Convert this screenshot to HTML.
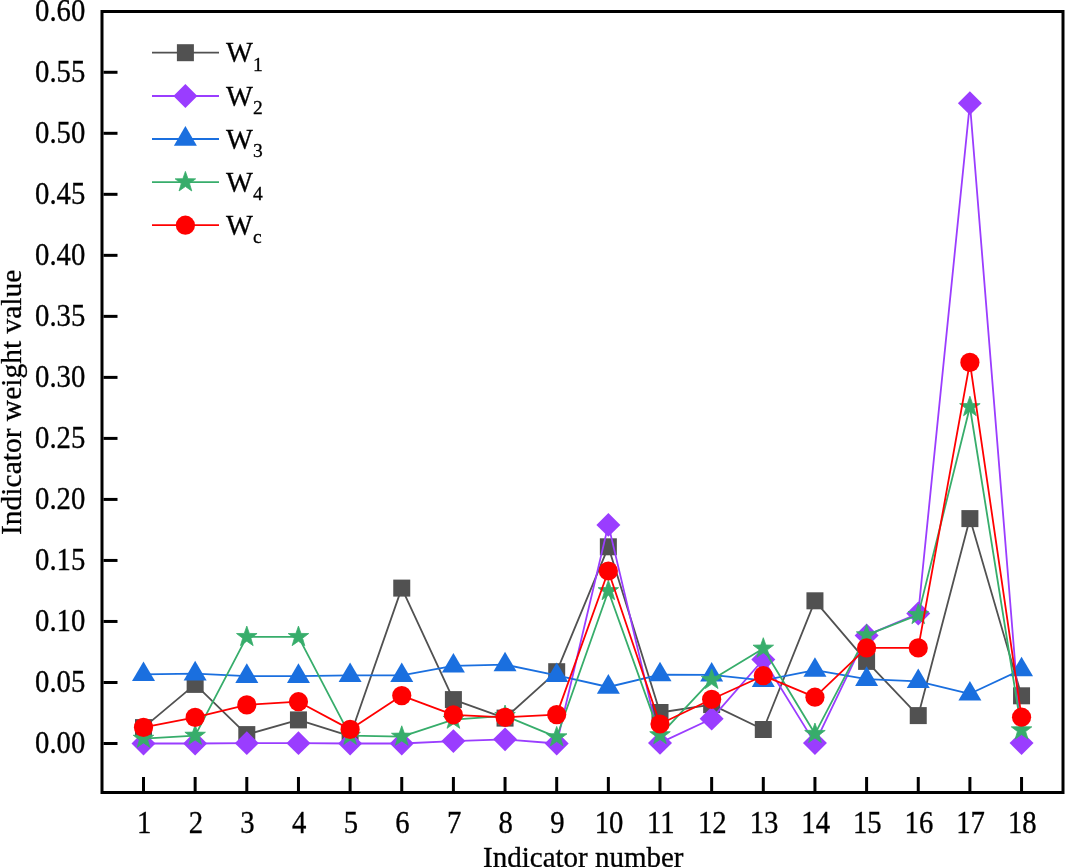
<!DOCTYPE html>
<html lang="en"><head><meta charset="utf-8"><title>Indicator weight value</title>
<style>html,body{margin:0;padding:0;background:#fff;}body{width:1065px;height:867px;overflow:hidden;}svg{display:block;will-change:transform;}text{font-family:"Liberation Serif",serif;fill:#000;stroke:#000;stroke-width:0.3px;}</style></head><body>
<svg width="1065" height="867" viewBox="0 0 1065 867">
<rect x="0" y="0" width="1065" height="867" fill="#fff"/>
<rect x="102.0" y="11.5" width="961.0" height="781.0" fill="none" stroke="#000" stroke-width="3"/>
<g stroke="#000" stroke-width="3"><line x1="103.5" y1="743.50" x2="117.5" y2="743.50"/><line x1="103.5" y1="682.48" x2="117.5" y2="682.48"/><line x1="103.5" y1="621.46" x2="117.5" y2="621.46"/><line x1="103.5" y1="560.44" x2="117.5" y2="560.44"/><line x1="103.5" y1="499.42" x2="117.5" y2="499.42"/><line x1="103.5" y1="438.40" x2="117.5" y2="438.40"/><line x1="103.5" y1="377.38" x2="117.5" y2="377.38"/><line x1="103.5" y1="316.36" x2="117.5" y2="316.36"/><line x1="103.5" y1="255.34" x2="117.5" y2="255.34"/><line x1="103.5" y1="194.32" x2="117.5" y2="194.32"/><line x1="103.5" y1="133.30" x2="117.5" y2="133.30"/><line x1="103.5" y1="72.28" x2="117.5" y2="72.28"/><line x1="143.50" y1="791.0" x2="143.50" y2="777.0"/><line x1="195.15" y1="791.0" x2="195.15" y2="777.0"/><line x1="246.80" y1="791.0" x2="246.80" y2="777.0"/><line x1="298.45" y1="791.0" x2="298.45" y2="777.0"/><line x1="350.10" y1="791.0" x2="350.10" y2="777.0"/><line x1="401.75" y1="791.0" x2="401.75" y2="777.0"/><line x1="453.40" y1="791.0" x2="453.40" y2="777.0"/><line x1="505.05" y1="791.0" x2="505.05" y2="777.0"/><line x1="556.70" y1="791.0" x2="556.70" y2="777.0"/><line x1="608.35" y1="791.0" x2="608.35" y2="777.0"/><line x1="660.00" y1="791.0" x2="660.00" y2="777.0"/><line x1="711.65" y1="791.0" x2="711.65" y2="777.0"/><line x1="763.30" y1="791.0" x2="763.30" y2="777.0"/><line x1="814.95" y1="791.0" x2="814.95" y2="777.0"/><line x1="866.60" y1="791.0" x2="866.60" y2="777.0"/><line x1="918.25" y1="791.0" x2="918.25" y2="777.0"/><line x1="969.90" y1="791.0" x2="969.90" y2="777.0"/><line x1="1021.55" y1="791.0" x2="1021.55" y2="777.0"/></g>
<g font-size="28.7" text-anchor="end"><text transform="translate(85.3,752.80) scale(1,1.07)">0.00</text><text transform="translate(85.3,691.78) scale(1,1.07)">0.05</text><text transform="translate(85.3,630.76) scale(1,1.07)">0.10</text><text transform="translate(85.3,569.74) scale(1,1.07)">0.15</text><text transform="translate(85.3,508.72) scale(1,1.07)">0.20</text><text transform="translate(85.3,447.70) scale(1,1.07)">0.25</text><text transform="translate(85.3,386.68) scale(1,1.07)">0.30</text><text transform="translate(85.3,325.66) scale(1,1.07)">0.35</text><text transform="translate(85.3,264.64) scale(1,1.07)">0.40</text><text transform="translate(85.3,203.62) scale(1,1.07)">0.45</text><text transform="translate(85.3,142.60) scale(1,1.07)">0.50</text><text transform="translate(85.3,81.58) scale(1,1.07)">0.55</text><text transform="translate(85.3,20.56) scale(1,1.07)">0.60</text></g>
<g font-size="28.7" text-anchor="middle"><text transform="translate(144.20,832.5) scale(1,1.07)">1</text><text transform="translate(195.85,832.5) scale(1,1.07)">2</text><text transform="translate(247.50,832.5) scale(1,1.07)">3</text><text transform="translate(299.15,832.5) scale(1,1.07)">4</text><text transform="translate(350.80,832.5) scale(1,1.07)">5</text><text transform="translate(402.45,832.5) scale(1,1.07)">6</text><text transform="translate(454.10,832.5) scale(1,1.07)">7</text><text transform="translate(505.75,832.5) scale(1,1.07)">8</text><text transform="translate(557.40,832.5) scale(1,1.07)">9</text><text transform="translate(609.05,832.5) scale(1,1.07)">10</text><text transform="translate(660.70,832.5) scale(1,1.07)">11</text><text transform="translate(712.35,832.5) scale(1,1.07)">12</text><text transform="translate(764.00,832.5) scale(1,1.07)">13</text><text transform="translate(815.65,832.5) scale(1,1.07)">14</text><text transform="translate(867.30,832.5) scale(1,1.07)">15</text><text transform="translate(918.95,832.5) scale(1,1.07)">16</text><text transform="translate(970.60,832.5) scale(1,1.07)">17</text><text transform="translate(1022.25,832.5) scale(1,1.07)">18</text></g>
<text transform="translate(583.3,867.0) scale(1,1.05)" font-size="29" text-anchor="middle">Indicator number</text>
<text transform="translate(20.8,402.3) rotate(-90) scale(1,1.03)" font-size="29.5" text-anchor="middle">Indicator weight value</text>
<g><polyline points="143.50,727.60 195.15,684.40 246.80,734.60 298.45,719.90 350.10,736.20 401.75,588.10 453.40,699.60 505.05,718.10 556.70,671.70 608.35,546.80 660.00,712.50 711.65,704.60 763.30,729.50 814.95,600.80 866.60,661.40 918.25,715.60 969.90,518.60 1021.55,695.80" fill="none" stroke="#515151" stroke-width="1.8" stroke-linejoin="round"/>
<rect x="135.00" y="719.10" width="17" height="17" fill="#515151"/>
<rect x="186.65" y="675.90" width="17" height="17" fill="#515151"/>
<rect x="238.30" y="726.10" width="17" height="17" fill="#515151"/>
<rect x="289.95" y="711.40" width="17" height="17" fill="#515151"/>
<rect x="341.60" y="727.70" width="17" height="17" fill="#515151"/>
<rect x="393.25" y="579.60" width="17" height="17" fill="#515151"/>
<rect x="444.90" y="691.10" width="17" height="17" fill="#515151"/>
<rect x="496.55" y="709.60" width="17" height="17" fill="#515151"/>
<rect x="548.20" y="663.20" width="17" height="17" fill="#515151"/>
<rect x="599.85" y="538.30" width="17" height="17" fill="#515151"/>
<rect x="651.50" y="704.00" width="17" height="17" fill="#515151"/>
<rect x="703.15" y="696.10" width="17" height="17" fill="#515151"/>
<rect x="754.80" y="721.00" width="17" height="17" fill="#515151"/>
<rect x="806.45" y="592.30" width="17" height="17" fill="#515151"/>
<rect x="858.10" y="652.90" width="17" height="17" fill="#515151"/>
<rect x="909.75" y="707.10" width="17" height="17" fill="#515151"/>
<rect x="961.40" y="510.10" width="17" height="17" fill="#515151"/>
<rect x="1013.05" y="687.30" width="17" height="17" fill="#515151"/>
</g>
<g><polyline points="143.50,743.50 195.15,743.50 246.80,743.20 298.45,743.20 350.10,743.50 401.75,743.50 453.40,741.10 505.05,739.30 556.70,743.50 608.35,524.90 660.00,742.90 711.65,718.70 763.30,659.50 814.95,743.10 866.60,635.40 918.25,613.50 969.90,103.20 1021.55,743.10" fill="none" stroke="#9a3dff" stroke-width="1.8" stroke-linejoin="round"/>
<polygon points="131.50,743.50 143.50,731.60 155.50,743.50 143.50,755.40" fill="#9a3dff"/>
<polygon points="183.15,743.50 195.15,731.60 207.15,743.50 195.15,755.40" fill="#9a3dff"/>
<polygon points="234.80,743.20 246.80,731.30 258.80,743.20 246.80,755.10" fill="#9a3dff"/>
<polygon points="286.45,743.20 298.45,731.30 310.45,743.20 298.45,755.10" fill="#9a3dff"/>
<polygon points="338.10,743.50 350.10,731.60 362.10,743.50 350.10,755.40" fill="#9a3dff"/>
<polygon points="389.75,743.50 401.75,731.60 413.75,743.50 401.75,755.40" fill="#9a3dff"/>
<polygon points="441.40,741.10 453.40,729.20 465.40,741.10 453.40,753.00" fill="#9a3dff"/>
<polygon points="493.05,739.30 505.05,727.40 517.05,739.30 505.05,751.20" fill="#9a3dff"/>
<polygon points="544.70,743.50 556.70,731.60 568.70,743.50 556.70,755.40" fill="#9a3dff"/>
<polygon points="596.35,524.90 608.35,513.00 620.35,524.90 608.35,536.80" fill="#9a3dff"/>
<polygon points="648.00,742.90 660.00,731.00 672.00,742.90 660.00,754.80" fill="#9a3dff"/>
<polygon points="699.65,718.70 711.65,706.80 723.65,718.70 711.65,730.60" fill="#9a3dff"/>
<polygon points="751.30,659.50 763.30,647.60 775.30,659.50 763.30,671.40" fill="#9a3dff"/>
<polygon points="802.95,743.10 814.95,731.20 826.95,743.10 814.95,755.00" fill="#9a3dff"/>
<polygon points="854.60,635.40 866.60,623.50 878.60,635.40 866.60,647.30" fill="#9a3dff"/>
<polygon points="906.25,613.50 918.25,601.60 930.25,613.50 918.25,625.40" fill="#9a3dff"/>
<polygon points="957.90,103.20 969.90,91.30 981.90,103.20 969.90,115.10" fill="#9a3dff"/>
<polygon points="1009.55,743.10 1021.55,731.20 1033.55,743.10 1021.55,755.00" fill="#9a3dff"/>
</g>
<g><polyline points="143.50,674.40 195.15,673.70 246.80,676.20 298.45,676.20 350.10,675.40 401.75,675.40 453.40,665.90 505.05,664.60 556.70,675.30 608.35,687.00 660.00,674.60 711.65,674.90 763.30,680.40 814.95,670.10 866.60,679.20 918.25,681.40 969.90,693.80 1021.55,669.60" fill="none" stroke="#1a6fdf" stroke-width="1.8" stroke-linejoin="round"/>
<polygon points="132.00,681.10 143.50,661.50 155.00,681.10" fill="#1a6fdf"/>
<polygon points="183.65,680.40 195.15,660.80 206.65,680.40" fill="#1a6fdf"/>
<polygon points="235.30,682.90 246.80,663.30 258.30,682.90" fill="#1a6fdf"/>
<polygon points="286.95,682.90 298.45,663.30 309.95,682.90" fill="#1a6fdf"/>
<polygon points="338.60,682.10 350.10,662.50 361.60,682.10" fill="#1a6fdf"/>
<polygon points="390.25,682.10 401.75,662.50 413.25,682.10" fill="#1a6fdf"/>
<polygon points="441.90,672.60 453.40,653.00 464.90,672.60" fill="#1a6fdf"/>
<polygon points="493.55,671.30 505.05,651.70 516.55,671.30" fill="#1a6fdf"/>
<polygon points="545.20,682.00 556.70,662.40 568.20,682.00" fill="#1a6fdf"/>
<polygon points="596.85,693.70 608.35,674.10 619.85,693.70" fill="#1a6fdf"/>
<polygon points="648.50,681.30 660.00,661.70 671.50,681.30" fill="#1a6fdf"/>
<polygon points="700.15,681.60 711.65,662.00 723.15,681.60" fill="#1a6fdf"/>
<polygon points="751.80,687.10 763.30,667.50 774.80,687.10" fill="#1a6fdf"/>
<polygon points="803.45,676.80 814.95,657.20 826.45,676.80" fill="#1a6fdf"/>
<polygon points="855.10,685.90 866.60,666.30 878.10,685.90" fill="#1a6fdf"/>
<polygon points="906.75,688.10 918.25,668.50 929.75,688.10" fill="#1a6fdf"/>
<polygon points="958.40,700.50 969.90,680.90 981.40,700.50" fill="#1a6fdf"/>
<polygon points="1010.05,676.30 1021.55,656.70 1033.05,676.30" fill="#1a6fdf"/>
</g>
<g><polyline points="143.50,738.60 195.15,735.60 246.80,636.90 298.45,636.90 350.10,735.70 401.75,736.60 453.40,719.60 505.05,715.80 556.70,737.20 608.35,591.00 660.00,735.10 711.65,679.80 763.30,648.50 814.95,733.80 866.60,635.20 918.25,614.90 969.90,407.00 1021.55,730.20" fill="none" stroke="#37ad6b" stroke-width="1.8" stroke-linejoin="round"/>
<polygon points="143.50,727.80 146.04,735.11 153.77,735.26 147.61,739.93 149.85,747.34 143.50,742.92 137.15,747.34 139.39,739.93 133.23,735.26 140.96,735.11" fill="#37ad6b" stroke="#37ad6b" stroke-width="0.8" stroke-linejoin="round"/>
<polygon points="195.15,724.80 197.69,732.11 205.42,732.26 199.26,736.93 201.50,744.34 195.15,739.92 188.80,744.34 191.04,736.93 184.88,732.26 192.61,732.11" fill="#37ad6b" stroke="#37ad6b" stroke-width="0.8" stroke-linejoin="round"/>
<polygon points="246.80,626.10 249.34,633.41 257.07,633.56 250.91,638.23 253.15,645.64 246.80,641.22 240.45,645.64 242.69,638.23 236.53,633.56 244.26,633.41" fill="#37ad6b" stroke="#37ad6b" stroke-width="0.8" stroke-linejoin="round"/>
<polygon points="298.45,626.10 300.99,633.41 308.72,633.56 302.56,638.23 304.80,645.64 298.45,641.22 292.10,645.64 294.34,638.23 288.18,633.56 295.91,633.41" fill="#37ad6b" stroke="#37ad6b" stroke-width="0.8" stroke-linejoin="round"/>
<polygon points="350.10,724.90 352.64,732.21 360.37,732.36 354.21,737.03 356.45,744.44 350.10,740.02 343.75,744.44 345.99,737.03 339.83,732.36 347.56,732.21" fill="#37ad6b" stroke="#37ad6b" stroke-width="0.8" stroke-linejoin="round"/>
<polygon points="401.75,725.80 404.29,733.11 412.02,733.26 405.86,737.93 408.10,745.34 401.75,740.92 395.40,745.34 397.64,737.93 391.48,733.26 399.21,733.11" fill="#37ad6b" stroke="#37ad6b" stroke-width="0.8" stroke-linejoin="round"/>
<polygon points="453.40,708.80 455.94,716.11 463.67,716.26 457.51,720.93 459.75,728.34 453.40,723.92 447.05,728.34 449.29,720.93 443.13,716.26 450.86,716.11" fill="#37ad6b" stroke="#37ad6b" stroke-width="0.8" stroke-linejoin="round"/>
<polygon points="505.05,705.00 507.59,712.31 515.32,712.46 509.16,717.13 511.40,724.54 505.05,720.12 498.70,724.54 500.94,717.13 494.78,712.46 502.51,712.31" fill="#37ad6b" stroke="#37ad6b" stroke-width="0.8" stroke-linejoin="round"/>
<polygon points="556.70,726.40 559.24,733.71 566.97,733.86 560.81,738.53 563.05,745.94 556.70,741.52 550.35,745.94 552.59,738.53 546.43,733.86 554.16,733.71" fill="#37ad6b" stroke="#37ad6b" stroke-width="0.8" stroke-linejoin="round"/>
<polygon points="608.35,580.20 610.89,587.51 618.62,587.66 612.46,592.33 614.70,599.74 608.35,595.32 602.00,599.74 604.24,592.33 598.08,587.66 605.81,587.51" fill="#37ad6b" stroke="#37ad6b" stroke-width="0.8" stroke-linejoin="round"/>
<polygon points="660.00,724.30 662.54,731.61 670.27,731.76 664.11,736.43 666.35,743.84 660.00,739.42 653.65,743.84 655.89,736.43 649.73,731.76 657.46,731.61" fill="#37ad6b" stroke="#37ad6b" stroke-width="0.8" stroke-linejoin="round"/>
<polygon points="711.65,669.00 714.19,676.31 721.92,676.46 715.76,681.13 718.00,688.54 711.65,684.12 705.30,688.54 707.54,681.13 701.38,676.46 709.11,676.31" fill="#37ad6b" stroke="#37ad6b" stroke-width="0.8" stroke-linejoin="round"/>
<polygon points="763.30,637.70 765.84,645.01 773.57,645.16 767.41,649.83 769.65,657.24 763.30,652.82 756.95,657.24 759.19,649.83 753.03,645.16 760.76,645.01" fill="#37ad6b" stroke="#37ad6b" stroke-width="0.8" stroke-linejoin="round"/>
<polygon points="814.95,723.00 817.49,730.31 825.22,730.46 819.06,735.13 821.30,742.54 814.95,738.12 808.60,742.54 810.84,735.13 804.68,730.46 812.41,730.31" fill="#37ad6b" stroke="#37ad6b" stroke-width="0.8" stroke-linejoin="round"/>
<polygon points="866.60,624.40 869.14,631.71 876.87,631.86 870.71,636.53 872.95,643.94 866.60,639.52 860.25,643.94 862.49,636.53 856.33,631.86 864.06,631.71" fill="#37ad6b" stroke="#37ad6b" stroke-width="0.8" stroke-linejoin="round"/>
<polygon points="918.25,604.10 920.79,611.41 928.52,611.56 922.36,616.23 924.60,623.64 918.25,619.22 911.90,623.64 914.14,616.23 907.98,611.56 915.71,611.41" fill="#37ad6b" stroke="#37ad6b" stroke-width="0.8" stroke-linejoin="round"/>
<polygon points="969.90,396.20 972.44,403.51 980.17,403.66 974.01,408.33 976.25,415.74 969.90,411.32 963.55,415.74 965.79,408.33 959.63,403.66 967.36,403.51" fill="#37ad6b" stroke="#37ad6b" stroke-width="0.8" stroke-linejoin="round"/>
<polygon points="1021.55,719.40 1024.09,726.71 1031.82,726.86 1025.66,731.53 1027.90,738.94 1021.55,734.52 1015.20,738.94 1017.44,731.53 1011.28,726.86 1019.01,726.71" fill="#37ad6b" stroke="#37ad6b" stroke-width="0.8" stroke-linejoin="round"/>
</g>
<g><polyline points="143.50,727.40 195.15,717.40 246.80,704.90 298.45,701.70 350.10,729.40 401.75,695.60 453.40,714.80 505.05,717.30 556.70,714.60 608.35,571.00 660.00,724.00 711.65,699.30 763.30,675.70 814.95,697.20 866.60,647.90 918.25,647.90 969.90,362.40 1021.55,717.20" fill="none" stroke="#ff0000" stroke-width="1.8" stroke-linejoin="round"/>
<circle cx="143.50" cy="727.40" r="9.6" fill="#ff0000"/>
<circle cx="195.15" cy="717.40" r="9.6" fill="#ff0000"/>
<circle cx="246.80" cy="704.90" r="9.6" fill="#ff0000"/>
<circle cx="298.45" cy="701.70" r="9.6" fill="#ff0000"/>
<circle cx="350.10" cy="729.40" r="9.6" fill="#ff0000"/>
<circle cx="401.75" cy="695.60" r="9.6" fill="#ff0000"/>
<circle cx="453.40" cy="714.80" r="9.6" fill="#ff0000"/>
<circle cx="505.05" cy="717.30" r="9.6" fill="#ff0000"/>
<circle cx="556.70" cy="714.60" r="9.6" fill="#ff0000"/>
<circle cx="608.35" cy="571.00" r="9.6" fill="#ff0000"/>
<circle cx="660.00" cy="724.00" r="9.6" fill="#ff0000"/>
<circle cx="711.65" cy="699.30" r="9.6" fill="#ff0000"/>
<circle cx="763.30" cy="675.70" r="9.6" fill="#ff0000"/>
<circle cx="814.95" cy="697.20" r="9.6" fill="#ff0000"/>
<circle cx="866.60" cy="647.90" r="9.6" fill="#ff0000"/>
<circle cx="918.25" cy="647.90" r="9.6" fill="#ff0000"/>
<circle cx="969.90" cy="362.40" r="9.6" fill="#ff0000"/>
<circle cx="1021.55" cy="717.20" r="9.6" fill="#ff0000"/>
</g>
<line x1="152" y1="52.7" x2="219" y2="52.7" stroke="#515151" stroke-width="1.8"/>
<rect x="176.90" y="44.20" width="17" height="17" fill="#515151"/>
<text x="226" y="62.20" font-size="28.5">W<tspan font-size="19.5" dy="8.5">1</tspan></text>
<line x1="152" y1="96" x2="219" y2="96" stroke="#9a3dff" stroke-width="1.8"/>
<polygon points="173.40,96.00 185.40,84.10 197.40,96.00 185.40,107.90" fill="#9a3dff"/>
<text x="226" y="105.50" font-size="28.5">W<tspan font-size="19.5" dy="8.5">2</tspan></text>
<line x1="152" y1="139" x2="219" y2="139" stroke="#1a6fdf" stroke-width="1.8"/>
<polygon points="173.90,145.70 185.40,126.10 196.90,145.70" fill="#1a6fdf"/>
<text x="226" y="148.50" font-size="28.5">W<tspan font-size="19.5" dy="8.5">3</tspan></text>
<line x1="152" y1="182.2" x2="219" y2="182.2" stroke="#37ad6b" stroke-width="1.8"/>
<polygon points="185.40,171.40 187.94,178.71 195.67,178.86 189.51,183.53 191.75,190.94 185.40,186.52 179.05,190.94 181.29,183.53 175.13,178.86 182.86,178.71" fill="#37ad6b" stroke="#37ad6b" stroke-width="0.8" stroke-linejoin="round"/>
<text x="226" y="191.70" font-size="28.5">W<tspan font-size="19.5" dy="8.5">4</tspan></text>
<line x1="152" y1="225.2" x2="219" y2="225.2" stroke="#ff0000" stroke-width="1.8"/>
<circle cx="185.40" cy="225.20" r="9.6" fill="#ff0000"/>
<text x="226" y="234.70" font-size="28.5">W<tspan font-size="19.5" dy="8.5">c</tspan></text>
</svg></body></html>
